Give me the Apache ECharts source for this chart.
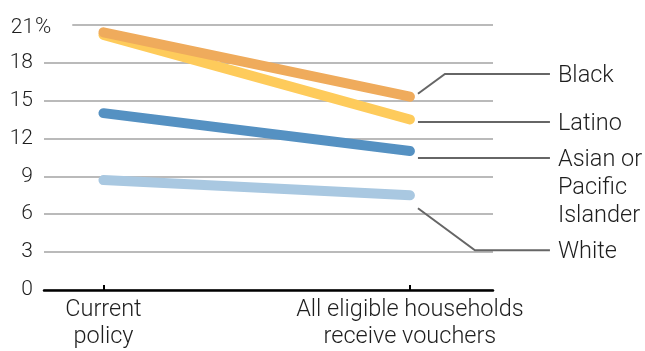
<!DOCTYPE html>
<html>
<head>
<meta charset="utf-8">
<script src="https://cdn.jsdelivr.net/npm/echarts@6/dist/echarts.min.js"></script>
<style>
  html, body { margin: 0; padding: 0; background: #fff; }
  #chart { width: 645px; height: 351px; }
</style>
</head>
<body>
<div id="chart"></div>
<script>
// ---- data ----
const categories = ['Current\npolicy', 'All eligible households\nreceive vouchers'];
const groupNames = ['Black', 'Latino', 'Asian or\nPacific\nIslander', 'White'];
const blackValues = [20.4, 15.3];
const latinoValues = [20.2, 13.5];
const asianValues = [14.0, 11.0];
const whiteValues = [8.7, 7.5];
const yTickValues = [0, 3, 6, 9, 12, 15, 18, 21];

// ---- layout / style (not data) ----
const FONT = 'Roboto, "Liberation Sans", sans-serif';
const WEIGHT = 300;
const TEXT = '#1e1e1e';
const colors = { black: '#efab5c', latino: '#fecb5b', asian: '#5591c2', white: '#a9c8e1' };
// label anchor heights (in axis units) and leader shapes (pixel offsets)
const leaderLayout = [
  { label: 17.1, startDy: -3, kinkDx: 35 },   // Black
  { label: 13.3, startDy: null, kinkDx: 8 },  // Latino
  { label: 10.45, startDy: null, kinkDx: 8 }, // Asian
  { label: 3.15, startDy: 13, kinkDx: 65 }    // White
];
const seriesEnds = [blackValues, latinoValues, asianValues, whiteValues];

const chart = echarts.init(document.getElementById('chart'), null, { renderer: 'canvas' });

function lineSeries(name, values, color) {
  return {
    name: name,
    type: 'line',
    data: values.map((v, i) => [i, v]),
    symbol: 'none',
    silent: true,
    lineStyle: { color: color, width: 10, cap: 'round', join: 'round' },
    z: 3
  };
}

const option = {
  animation: false,
  backgroundColor: '#fff',
  grid: { left: 44, right: 152, top: 24.7, bottom: 61, outerBoundsMode: 'none' },
  xAxis: {
    type: 'value',
    min: -0.194,
    max: 1.271,
    splitLine: { show: false },
    axisLine: { show: true, onZero: false, lineStyle: { color: '#000', width: 2.5 } },
    axisTick: { show: true, inside: true, length: 5, customValues: [0, 1], lineStyle: { color: '#000', width: 2 } },
    axisLabel: {
      customValues: [0, 1],
      formatter: (v) => categories[Math.round(v)],
      fontFamily: FONT, fontWeight: WEIGHT, fontSize: 23.5, lineHeight: 27, color: TEXT, margin: 7
    }
  },
  yAxis: {
    type: 'value',
    min: 0,
    max: 21,
    interval: 3,
    axisLine: { show: false },
    axisTick: { show: false },
    splitLine: { show: true, lineStyle: { color: '#a3a3a3', width: 1.5 } },
    axisLabel: {
      align: 'left',
      margin: 32,
      formatter: (v) => v === yTickValues[yTickValues.length - 1] ? '{t|' + v + '}{p|%}' : '{n|' + v + '}',
      fontFamily: FONT, fontWeight: WEIGHT, fontSize: 21, color: TEXT,
      rich: {
        n: { width: 21, align: 'right', fontFamily: FONT, fontWeight: WEIGHT, fontSize: 21, color: TEXT },
        t: { width: 21, align: 'right', fontFamily: FONT, fontWeight: WEIGHT, fontSize: 21, color: TEXT, padding: [6, 0, 0, 0] },
        p: { fontFamily: FONT, fontWeight: WEIGHT, fontSize: 22, color: TEXT, backgroundColor: '#fff', padding: [6, 21, 0, 2] }
      }
    }
  },
  series: [
    lineSeries('White', whiteValues, colors.white),
    lineSeries('Asian or Pacific Islander', asianValues, colors.asian),
    lineSeries('Latino', latinoValues, colors.latino),
    lineSeries('Black', blackValues, colors.black),
    {
      type: 'custom',
      coordinateSystem: 'cartesian2d',
      silent: true,
      clip: false,
      z: 4,
      data: groupNames.map((n, i) => [1, seriesEnds[i][1], leaderLayout[i].label, i]),
      encode: { x: 0, y: 1 },
      renderItem: function (params, api) {
        const idx = api.value(3);
        const cfg = leaderLayout[idx];
        const p = api.coord([api.value(0), api.value(1)]);
        const l = api.coord([api.value(0), api.value(2)]);
        const startY = cfg.startDy === null ? l[1] : p[1] + cfg.startDy;
        const pts = [
          [p[0] + 8, startY],
          [p[0] + cfg.kinkDx, l[1]],
          [p[0] + 140, l[1]]
        ];
        const lh = 28;
        return {
          type: 'group',
          children: [
            {
              type: 'polyline',
              shape: { points: pts },
              style: { stroke: '#666', lineWidth: 2, fill: null }
            },
            {
              type: 'text',
              style: {
                text: groupNames[idx],
                x: p[0] + 148,
                y: l[1] - lh / 2 + 2,
                fontFamily: FONT,
                fontWeight: WEIGHT,
                fontSize: 23.5,
                lineHeight: lh,
                fill: TEXT,
                align: 'left',
                verticalAlign: 'top'
              }
            }
          ]
        };
      }
    }
  ]
};

chart.setOption(option);
</script>
</body>
</html>
